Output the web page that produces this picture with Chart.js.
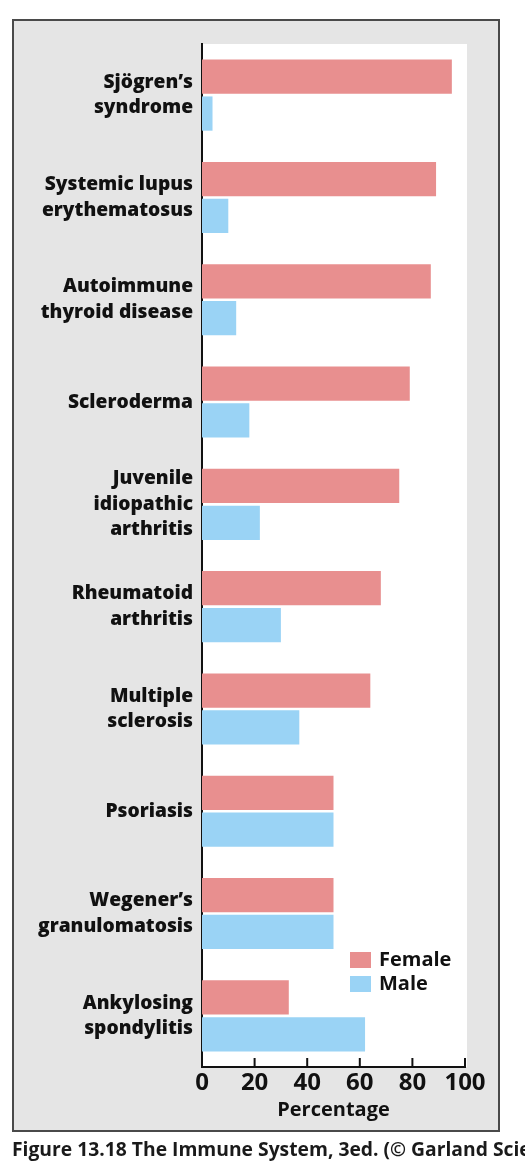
<!DOCTYPE html>
<html lang="en">
  <head>
    <meta charset="UTF-8" />
    <title>Autoimmune disease by sex</title>
    <script src="https://cdn.jsdelivr.net/npm/chart.js"></script>
    <style>
      body {
        margin: 0;
        width: 525px;
        height: 1168px;
        background: #fff;
        overflow: hidden;
        position: relative;
        font-family: "Open Sans", sans-serif;
      }
      .frame {
        position: absolute;
        left: 12px;
        top: 19px;
        width: 484px;
        height: 1109px;
        border: 2px solid #4a4a4a;
        background: #e5e5e5;
      }
      canvas {
        position: absolute;
        left: 0;
        top: 0;
      }
      .caption {
        position: absolute;
        left: 12px;
        top: 1135px;
        width: 513px;
        overflow: hidden;
        white-space: nowrap;
        font-weight: 700;
        font-size: 19.3px;
        color: #1a1a1a;
      }
    </style>
  </head>
  <body>
    <div class="frame"></div>
    <canvas id="grafico" width="525" height="1168"></canvas>
    <div class="caption">Figure 13.18 The Immune System, 3ed. (© Garland Science 2009)</div>

    <script>
      const doencas = [
        ["Sjögren’s", "syndrome"],
        ["Systemic lupus", "erythematosus"],
        ["Autoimmune", "thyroid disease"],
        ["Scleroderma"],
        ["Juvenile", "idiopathic", "arthritis"],
        ["Rheumatoid", "arthritis"],
        ["Multiple", "sclerosis"],
        ["Psoriasis"],
        ["Wegener’s", "granulomatosis"],
        ["Ankylosing", "spondylitis"],
      ];
      const feminino = [95, 89, 87, 79, 75, 68, 64, 50, 50, 33];
      const masculino = [4, 10, 13, 18, 22, 30, 37, 50, 50, 62];
      const escalaX = [0, 20, 40, 60, 80, 100];

      const corFem = "#e88f8f";
      const corMasc = "#9ad3f5";
      const preto = "#111";

      // fundo branco da area do grafico, marcas do eixo para dentro e legenda
      const extras = {
        id: "extras",
        beforeDraw(chart) {
          const { ctx, chartArea: a } = chart;
          ctx.save();
          ctx.fillStyle = "#fff";
          ctx.fillRect(a.left, a.top, a.right - a.left + 2, a.bottom - a.top);
          ctx.restore();
        },
        afterDraw(chart) {
          const { ctx, chartArea: a } = chart;
          const x = chart.scales.x;
          ctx.save();
          ctx.strokeStyle = preto;
          ctx.lineWidth = 2;
          x.ticks.forEach((t) => {
            if (t.value === 0) return;
            const px = x.getPixelForValue(t.value);
            ctx.beginPath();
            ctx.moveTo(px, a.bottom);
            ctx.lineTo(px, a.bottom - 9);
            ctx.stroke();
          });

          const bx = a.right - 115;
          let by = a.bottom - 115;
          ctx.font = "bold 20px 'Open Sans'";
          ctx.textBaseline = "middle";
          chart.data.datasets.forEach((ds) => {
            ctx.fillStyle = ds.backgroundColor;
            ctx.fillRect(bx, by, 21, 16);
            ctx.fillStyle = preto;
            ctx.fillText(ds.label, bx + 29, by + 8);
            by += 24;
          });
          ctx.restore();
        },
      };

      new Chart(document.getElementById("grafico"), {
        type: "bar",
        data: {
          labels: doencas,
          datasets: [
            {
              label: "Female",
              data: feminino,
              backgroundColor: corFem,
              categoryPercentage: 0.72,
              barPercentage: 0.93,
            },
            {
              label: "Male",
              data: masculino,
              backgroundColor: corMasc,
              categoryPercentage: 0.72,
              barPercentage: 0.93,
            },
          ],
        },
        options: {
          indexAxis: "y",
          responsive: false,
          animation: false,
          layout: { padding: { top: 44, right: 60, bottom: 40, left: 0 } },
          plugins: {
            legend: { display: false },
            tooltip: { enabled: false },
          },
          scales: {
            x: {
              min: escalaX[0],
              max: escalaX[escalaX.length - 1],
              ticks: {
                stepSize: 20,
                padding: 2,
                color: preto,
                font: { family: "Open Sans", weight: "bold", size: 24 },
              },
              grid: { display: false, drawTicks: false },
              border: { display: true, color: preto, width: 2 },
              title: {
                display: true,
                text: "Percentage",
                color: preto,
                padding: { top: 0, bottom: 6 },
                font: { family: "Open Sans", weight: "bold", size: 20 },
              },
              afterFit: (s) => {
                s.height = 61;
              },
            },
            y: {
              ticks: {
                padding: 9,
                color: preto,
                font: {
                  family: "Open Sans",
                  weight: "800",
                  size: 19.2,
                  lineHeight: 1.33,
                },
              },
              grid: { display: false, drawTicks: false },
              border: { display: true, color: preto, width: 2 },
              afterFit: (s) => {
                s.width = 202;
              },
            },
          },
        },
        plugins: [extras],
      });
    </script>
  </body>
</html>
